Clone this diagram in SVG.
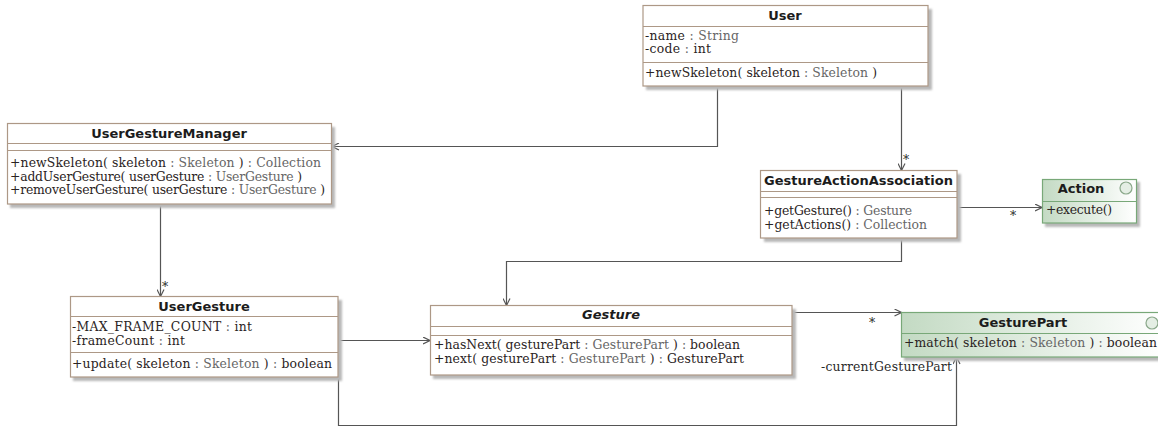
<svg xmlns="http://www.w3.org/2000/svg" width="1158" height="427" viewBox="0 0 1158 427">
  <defs>
    <style>
      .box { fill: #ffffff; stroke: #ad9886; stroke-width: 1.2; }
      .ibox { stroke: #78a878; stroke-width: 1.2; }
      .sep { stroke: #ad9886; stroke-width: 1; }
      .isep { stroke: #78a878; stroke-width: 1; }
      .shadow { fill: #b8b8b8; filter: url(#soft); }
      .title { font-family: "DejaVu Sans", "Liberation Sans", sans-serif; font-weight: bold; font-size: 13px; fill: #1c1c1c; text-anchor: middle; }
      .it { font-style: italic; }
      .m { font-family: "DejaVu Serif", "Liberation Serif", serif; font-size: 12.4px; fill: #2a2323; }
      .t { fill: #666666; }
      .lbl { font-family: "DejaVu Serif", "Liberation Serif", serif; font-size: 12.4px; fill: #2a2a2a; }
      .conn { fill: none; stroke: #555555; stroke-width: 1.2; }
      .icon { fill: #e4eee4; stroke: #8aa88a; stroke-width: 1.2; }
    </style>
    <filter id="soft" x="-5%" y="-5%" width="110%" height="120%">
      <feGaussianBlur stdDeviation="1.2"/>
    </filter>
    <linearGradient id="green" x1="0" y1="0" x2="1" y2="0">
      <stop offset="0" stop-color="#c3dac3"/>
      <stop offset="1" stop-color="#ffffff"/>
    </linearGradient>
    <marker id="open" viewBox="0 0 8 8" refX="7.5" refY="4" markerWidth="8" markerHeight="8" markerUnits="userSpaceOnUse" orient="auto">
      <path d="M0.5,0.5 L7.5,4 L0.5,7.5" fill="none" stroke="#555555" stroke-width="1.2"/>
    </marker>
  </defs>

  <!-- associations -->
  <g id="connectors">
    <path class="conn" d="M717.5,86 V146.5 H332" marker-end="url(#open)"/>
    <path class="conn" d="M901.5,86 V170.5" marker-end="url(#open)"/>
    <text class="lbl" x="903" y="164">*</text>
    <path class="conn" d="M957,207.5 H1042" marker-end="url(#open)"/>
    <text class="lbl" x="1010" y="220">*</text>
    <path class="conn" d="M901.5,238 V261.5 H506.5 V305.5" marker-end="url(#open)"/>
    <path class="conn" d="M160.5,204 V296.5" marker-end="url(#open)"/>
    <text class="lbl" x="162" y="291">*</text>
    <path class="conn" d="M338,340.5 H430" marker-end="url(#open)"/>
    <path class="conn" d="M792,312.5 H901.5" marker-end="url(#open)"/>
    <text class="lbl" x="869" y="327">*</text>
    <path class="conn" d="M338.5,377 V425.5 H956.5 V357" marker-end="url(#open)"/>
    <text class="lbl" x="952" y="371" text-anchor="end" textLength="131" lengthAdjust="spacing">-currentGesturePart</text>
  </g>

  <!-- User -->
  <g id="User">
    <rect class="shadow" x="646" y="9" width="286" height="81"/>
    <rect class="box" x="643" y="5.5" width="285" height="80.5"/>
    <line class="sep" x1="643" y1="26.5" x2="928" y2="26.5"/>
    <line class="sep" x1="643" y1="62.5" x2="928" y2="62.5"/>
    <text class="title" x="785" y="20">User</text>
    <text class="m" x="645" y="40" textLength="94" lengthAdjust="spacing">-name<tspan class="t"> : String</tspan></text>
    <text class="m" x="645" y="53" textLength="66" lengthAdjust="spacing">-code<tspan class="t"> : </tspan>int</text>
    <text class="m" x="645" y="77" textLength="232" lengthAdjust="spacing">+newSkeleton( skeleton<tspan class="t"> : Skeleton </tspan>)</text>
  </g>

  <!-- UserGestureManager -->
  <g id="UserGestureManager">
    <rect class="shadow" x="10" y="127" width="325" height="81"/>
    <rect class="box" x="7.5" y="123.5" width="324" height="80.5"/>
    <line class="sep" x1="7.5" y1="143.5" x2="331.5" y2="143.5"/>
    <line class="sep" x1="7.5" y1="150.5" x2="331.5" y2="150.5"/>
    <text class="title" x="169" y="138">UserGestureManager</text>
    <text class="m" x="10" y="167" textLength="311" lengthAdjust="spacing">+newSkeleton( skeleton<tspan class="t"> : Skeleton </tspan>)<tspan class="t"> : Collection</tspan></text>
    <text class="m" x="10" y="181" textLength="292" lengthAdjust="spacing">+addUserGesture( userGesture<tspan class="t"> : UserGesture </tspan>)</text>
    <text class="m" x="10" y="194" textLength="315" lengthAdjust="spacing">+removeUserGesture( userGesture<tspan class="t"> : UserGesture </tspan>)</text>
  </g>

  <!-- GestureActionAssociation -->
  <g id="GestureActionAssociation">
    <rect class="shadow" x="764" y="174" width="197" height="68"/>
    <rect class="box" x="760.5" y="170.5" width="196.5" height="67.5"/>
    <line class="sep" x1="760.5" y1="191.5" x2="957" y2="191.5"/>
    <line class="sep" x1="760.5" y1="197.5" x2="957" y2="197.5"/>
    <text class="title" x="858.5" y="185">GestureActionAssociation</text>
    <text class="m" x="764" y="215" textLength="148" lengthAdjust="spacing">+getGesture()<tspan class="t"> : Gesture</tspan></text>
    <text class="m" x="764" y="229" textLength="163" lengthAdjust="spacing">+getActions()<tspan class="t"> : Collection</tspan></text>
  </g>

  <!-- Action -->
  <g id="Action">
    <rect class="shadow" x="1045" y="182" width="95" height="45"/>
    <rect class="ibox" fill="url(#green)" x="1042.5" y="179.5" width="94" height="43.5"/>
    <line class="isep" x1="1042.5" y1="201.5" x2="1136.5" y2="201.5"/>
    <circle class="icon" cx="1126" cy="188" r="6"/>
    <text class="title" x="1081" y="193">Action</text>
    <text class="m" x="1046" y="214" textLength="66" lengthAdjust="spacing">+execute()</text>
  </g>

  <!-- UserGesture -->
  <g id="UserGesture">
    <rect class="shadow" x="73" y="300" width="269" height="81"/>
    <rect class="box" x="70.5" y="296.5" width="267.5" height="80.5"/>
    <line class="sep" x1="70.5" y1="316.5" x2="338" y2="316.5"/>
    <line class="sep" x1="70.5" y1="352.5" x2="338" y2="352.5"/>
    <text class="title" x="204" y="311">UserGesture</text>
    <text class="m" x="72" y="331" textLength="180" lengthAdjust="spacing">-MAX_FRAME_COUNT<tspan class="t"> : </tspan>int</text>
    <text class="m" x="72" y="345" textLength="113" lengthAdjust="spacing">-frameCount<tspan class="t"> : </tspan>int</text>
    <text class="m" x="72" y="368" textLength="260" lengthAdjust="spacing">+update( skeleton<tspan class="t"> : Skeleton </tspan>)<tspan class="t"> : </tspan>boolean</text>
  </g>

  <!-- Gesture (abstract) -->
  <g id="Gesture">
    <rect class="shadow" x="433" y="309" width="363" height="70"/>
    <rect class="box" x="430.5" y="305.5" width="361.5" height="69.5"/>
    <line class="sep" x1="430.5" y1="326.5" x2="792" y2="326.5"/>
    <line class="sep" x1="430.5" y1="335.5" x2="792" y2="335.5"/>
    <text class="title it" x="611" y="319">Gesture</text>
    <text class="m" x="434" y="349" textLength="306" lengthAdjust="spacing">+hasNext( gesturePart<tspan class="t"> : GesturePart </tspan>)<tspan class="t"> : </tspan>boolean</text>
    <text class="m" x="434" y="363" textLength="310" lengthAdjust="spacing">+next( gesturePart<tspan class="t"> : GesturePart </tspan>)<tspan class="t"> : </tspan>GesturePart</text>
  </g>

  <!-- GesturePart -->
  <g id="GesturePart">
    <rect class="shadow" x="904" y="316" width="262" height="45"/>
    <rect class="ibox" fill="url(#green)" x="901.5" y="312.5" width="262" height="44.5"/>
    <line class="isep" x1="901.5" y1="333.5" x2="1163" y2="333.5"/>
    <circle class="icon" cx="1152" cy="323" r="6"/>
    <text class="title" x="1023" y="327">GesturePart</text>
    <text class="m" x="904" y="347" textLength="253" lengthAdjust="spacing">+match( skeleton<tspan class="t"> : Skeleton </tspan>)<tspan class="t"> : </tspan>boolean</text>
  </g>
</svg>
